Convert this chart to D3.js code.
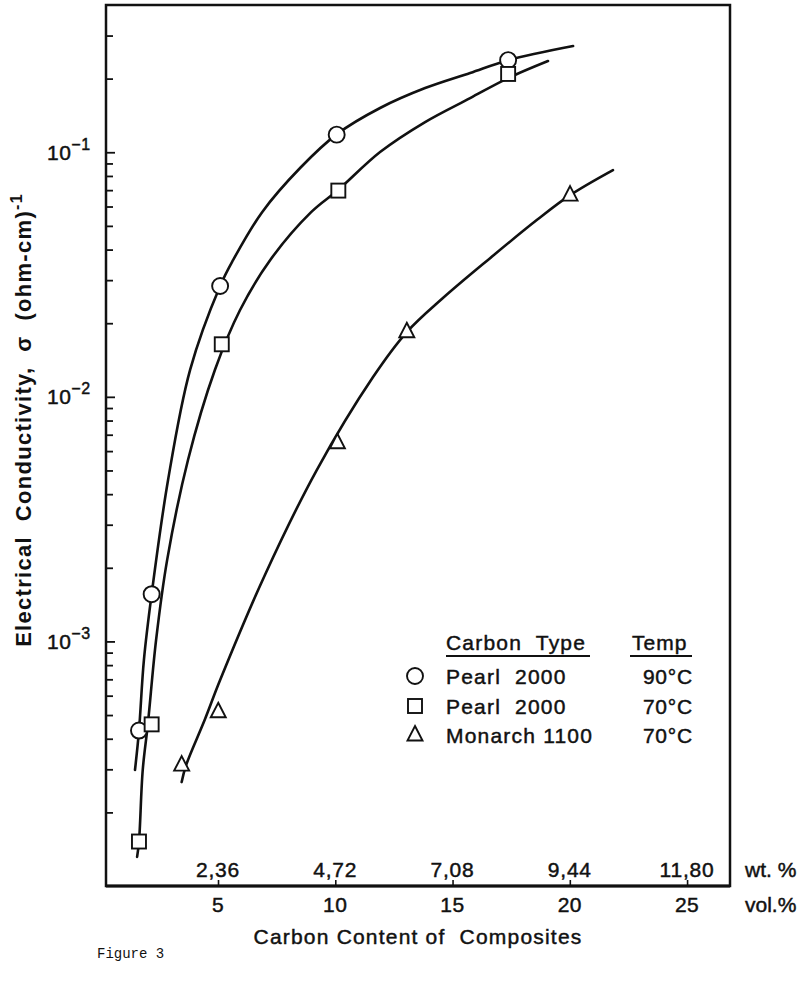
<!DOCTYPE html>
<html><head><meta charset="utf-8">
<script src="https://cdn.jsdelivr.net/npm/d3@7"></script>
<style>
body{margin:0;background:#fff}
text{font-family:"Liberation Sans",Arial,Helvetica,sans-serif;fill:#111;white-space:pre;stroke:#111;stroke-width:0.45px}
text.plain{stroke:none}
</style>
</head><body>
<svg id="chart" width="800" height="983"></svg>
<script>
// ---------- data ----------
const volTicks = [5, 10, 15, 20, 25];
const volTickLabels = ["5", "10", "15", "20", "25"];
const wtTickLabels = ["2,36", "4,72", "7,08", "9,44", "11,80"];
const yMajorTicks = [1e-3, 1e-2, 1e-1];
const yMajorExponents = ["-3", "-2", "-1"];

const seriesNames = ["Pearl  2000", "Pearl  2000", "Monarch 1100"];
const seriesTemps = ["90°C", "70°C", "70°C"];
const seriesSymbols = ["circle", "square", "triangle"];

// measured points [vol.%, conductivity]
const pearl90Points = [[1.63, 4.32e-4], [2.17, 1.56e-3], [5.09, 0.0284], [10.06, 0.118], [17.37, 0.238]];
const pearl70Points = [[1.63, 1.52e-4], [2.17, 4.58e-4], [5.16, 0.0164], [10.13, 0.0697], [17.37, 0.209]];
const monarchPoints = [[3.45, 3.12e-4], [5.01, 5.16e-4], [10.09, 6.49e-3], [13.05, 0.01845], [20.01, 0.0668]];

// hand-drawn fitted curves
const pearl90Curve = [[1.46, 2.98e-4], [1.63, 4.31e-4], [1.84, 8.39e-4], [2.17, 1.56e-3], [2.87, 4.57e-3],
  [3.81, 0.0129], [5.09, 0.0284], [5.64, 0.0362], [6.88, 0.0569], [8.50, 0.0862], [10.07, 0.1186],
  [11.91, 0.1517], [13.83, 0.183], [15.75, 0.211], [17.37, 0.238], [20.14, 0.2717]];
const pearl70Curve = [[1.55, 1.315e-4], [1.63, 1.515e-4], [1.79, 2.98e-4], [2.01, 4.6e-4], [2.36, 1.014e-3],
  [2.83, 2.15e-3], [3.72, 5.52e-3], [4.87, 0.0129], [5.94, 0.02265], [7.22, 0.0362], [8.97, 0.0569],
  [10.12, 0.0701], [11.91, 0.1002], [13.83, 0.1329], [15.75, 0.1665], [17.37, 0.201], [19.07, 0.236]];
const monarchCurve = [[3.45, 2.66e-4], [3.64, 3.12e-4], [4.43, 4.77e-4], [5.09, 6.95e-4], [7.00, 1.87e-3],
  [9.21, 5.02e-3], [11.61, 0.01205], [13.05, 0.0184], [14.59, 0.02535], [16.6, 0.0369], [18.59, 0.0528],
  [20.01, 0.0668], [21.84, 0.0846]];

// ---------- layout ----------
const L = 106, R = 730, T = 5, B = 886;
const svg = d3.select("#chart");
const x = d3.scaleLinear().domain([0.224, 26.83]).range([L, R]);
const y = d3.scaleLog().domain([1e-4, 0.4]).range([B, T]);

// frame
svg.append("rect").attr("x", L).attr("y", T).attr("width", R - L).attr("height", B - T)
  .attr("fill", "none").attr("stroke", "#111").attr("stroke-width", 2.5);
svg.append("line").attr("x1", L).attr("x2", R).attr("y1", B).attr("y2", B)
  .attr("stroke", "#111").attr("stroke-width", 3);

// y ticks (inward)
const allY = y.ticks().filter(v => v > 1e-4 * 1.01 && v < 0.39);
const minorY = allY.filter(v => !yMajorTicks.some(m => Math.abs(m - v) / m < 1e-6));
const yMinorAxis = d3.axisRight(y).tickValues(minorY).tickSize(7).tickFormat("");
const yMajorAxis = d3.axisRight(y).tickValues(yMajorTicks).tickSize(9).tickFormat("");
[yMinorAxis, yMajorAxis].forEach(ax => {
  const g = svg.append("g").attr("transform", `translate(${L},0)`).call(ax);
  g.select(".domain").remove();
  g.selectAll("line").attr("stroke", "#111").attr("stroke-width", 1.8);
});
// y major labels
yMajorTicks.forEach((v, i) => {
  const t = svg.append("text").attr("x", 47).attr("y", y(v) + 7.5)
    .attr("font-size", 21).attr("letter-spacing", 0.5);
  t.append("tspan").text("10");
  t.append("tspan").attr("dy", -10).attr("font-size", 16).text(yMajorExponents[i].replace("-", "\u2212"));
});

// x ticks (inward, up)
const xAxis = d3.axisTop(x).tickValues(volTicks).tickSize(6).tickFormat("");
const gx = svg.append("g").attr("transform", `translate(0,${B})`).call(xAxis);
gx.select(".domain").remove();
gx.selectAll("line").attr("stroke", "#111").attr("stroke-width", 1.6);
svg.selectAll(".vollab").data(volTicks).enter().append("text").attr("class", "vollab")
  .attr("x", d => x(d)).attr("y", 912).attr("text-anchor", "middle")
  .attr("font-size", 21).attr("letter-spacing", 0.5).text((d, i) => volTickLabels[i]);
svg.selectAll(".wtlab").data(volTicks).enter().append("text").attr("class", "wtlab")
  .attr("x", d => x(d)).attr("y", 877).attr("text-anchor", "middle")
  .attr("font-size", 21).attr("letter-spacing", 0.8).text((d, i) => wtTickLabels[i]);
svg.append("text").attr("x", 745).attr("y", 877).attr("font-size", 21).text("wt. %");
svg.append("text").attr("x", 745).attr("y", 912).attr("font-size", 21).text("vol.%");

// axis titles
svg.append("text").attr("x", 418).attr("y", 944).attr("text-anchor", "middle")
  .attr("font-size", 21).attr("letter-spacing", 1.2).text("Carbon Content of  Composites");
const yl = svg.append("text").attr("class", "plain").attr("transform", "translate(31,420) rotate(-90)")
  .attr("text-anchor", "middle").attr("font-size", 22).attr("font-weight", "bold").attr("letter-spacing", 1.3);
yl.append("tspan").text("Electrical  Conductivity,  \u03c3  (ohm-cm)");
yl.append("tspan").attr("dy", -9).attr("font-size", 16).text("-1");

svg.append("text").attr("class", "plain").attr("x", 97).attr("y", 958).attr("font-size", 14)
  .style("font-family", "'Liberation Mono','DejaVu Sans Mono',monospace").text("Figure 3");

// curves
const line = d3.line().x(d => x(d[0])).y(d => y(d[1])).curve(d3.curveCatmullRom.alpha(0.5));
[pearl90Curve, pearl70Curve, monarchCurve].forEach(c => {
  svg.append("path").attr("d", line(c)).attr("fill", "none").attr("stroke", "#111")
    .attr("stroke-width", 2.6).attr("stroke-linecap", "round");
});

// markers
function marker(g, type) {
  if (type === "circle") g.append("circle").attr("r", 8);
  else if (type === "square") g.append("rect").attr("x", -7).attr("y", -7).attr("width", 14).attr("height", 14);
  else g.append("path").attr("d", "M0,-9L7.5,5.5L-7.5,5.5Z");
  g.selectAll("*").attr("fill", "#fff").attr("stroke", "#111").attr("stroke-width", 1.9);
}
[pearl90Points, pearl70Points, monarchPoints].forEach((pts, si) => {
  pts.forEach(p => {
    const g = svg.append("g").attr("transform", `translate(${x(p[0])},${y(p[1])})`);
    marker(g, seriesSymbols[si]);
  });
});

// legend
svg.append("text").attr("x", 446).attr("y", 650).attr("font-size", 21).attr("letter-spacing", 1.2).text("Carbon  Type");
svg.append("line").attr("x1", 446).attr("x2", 590).attr("y1", 656).attr("y2", 656).attr("stroke", "#111").attr("stroke-width", 2);
svg.append("text").attr("x", 632).attr("y", 650).attr("font-size", 21).attr("letter-spacing", 1).text("Temp");
svg.append("line").attr("x1", 630).attr("x2", 692).attr("y1", 656).attr("y2", 656).attr("stroke", "#111").attr("stroke-width", 2);
const rowY = [676, 706, 735];
seriesNames.forEach((n, i) => {
  const g = svg.append("g").attr("transform", `translate(415,${rowY[i]})`);
  marker(g, seriesSymbols[i]);
  svg.append("text").attr("x", 446).attr("y", rowY[i] + 7.5).attr("font-size", 21).attr("letter-spacing", 1.2).text(n);
  svg.append("text").attr("x", 693).attr("y", rowY[i] + 7.5).attr("text-anchor", "end").attr("font-size", 21).attr("letter-spacing", 0.8).text(seriesTemps[i]);
});
</script>
</body></html>
